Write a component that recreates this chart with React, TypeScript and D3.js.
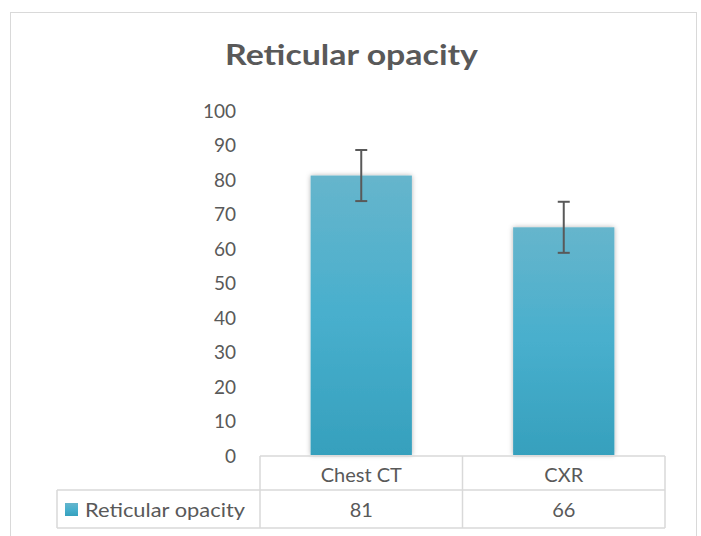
import React from "react";
import * as d3 from "d3";

const categories = ["Chest CT", "CXR"];
const values = [81, 66];
const errors = [7.4, 7.4];
const seriesName = "Reticular opacity";
const yTicks = [0, 10, 20, 30, 40, 50, 60, 70, 80, 90, 100];

const W = 701;
const H = 536;
const FONT = "Lato, 'Open Sans', sans-serif";
const TXT = "#595959";
const GRID = "#d9d9d9";

const App = () => {
  const plotLeft = 260;
  const plotRight = 665;
  const y = d3.scaleLinear().domain([0, 100]).range([455, 110]);
  const x = d3.scaleBand<string>().domain(categories).range([plotLeft, plotRight]).padding(0);
  const barW = x.bandwidth() * 0.5;
  const row1 = [456, 490];
  const row2 = [490, 528];
  const legendLeft = 57;

  return (
    <svg width={W} height={H} style={{ position: "absolute", left: 0, top: 0 }}>
      <defs>
        <linearGradient id="barGrad" x1="0" y1="0" x2="0" y2="1">
          <stop offset="0%" stopColor="#66b5cc" />
          <stop offset="50%" stopColor="#48afcd" />
          <stop offset="100%" stopColor="#36a0bd" />
        </linearGradient>
        <filter id="shadow" x="-20%" y="-10%" width="140%" height="120%">
          <feDropShadow dx="0" dy="0" stdDeviation="2.5" floodColor="#000" floodOpacity="0.3" />
        </filter>
      </defs>
      <rect x={0} y={0} width={W} height={H} fill="#fff" />
      <rect x={10.5} y={12.5} width={686} height={540} fill="#fff" stroke={GRID} strokeWidth={1} />

      <text x={351.5} y={65} textAnchor="middle" fontFamily={FONT} fontWeight="bold" fontSize={29} fill={TXT}
        textLength={253} lengthAdjust="spacingAndGlyphs">
        Reticular opacity
      </text>

      {yTicks.map((t) => (
        <text key={t} x={236} y={y(t)} textAnchor="end" dominantBaseline="central" fontFamily={FONT} fontSize={19} fill={TXT}>
          {t}
        </text>
      ))}

      {categories.map((c, i) => {
        const cx = (x(c) as number) + x.bandwidth() / 2;
        return (
          <g key={c}>
            <rect x={cx - barW / 2} y={y(values[i])} width={barW} height={y(0) - y(values[i])} fill="url(#barGrad)" filter="url(#shadow)" />
            <line x1={cx} x2={cx} y1={y(values[i] + errors[i])} y2={y(values[i] - errors[i])} stroke={TXT} strokeWidth={2} />
            <line x1={cx - 6} x2={cx + 6} y1={y(values[i] + errors[i])} y2={y(values[i] + errors[i])} stroke={TXT} strokeWidth={2} />
            <line x1={cx - 6} x2={cx + 6} y1={y(values[i] - errors[i])} y2={y(values[i] - errors[i])} stroke={TXT} strokeWidth={2} />
          </g>
        );
      })}

      {/* data table */}
      <g stroke={GRID} strokeWidth={1.5} fill="none">
        <line x1={plotLeft} x2={plotRight} y1={row1[0]} y2={row1[0]} />
        <line x1={legendLeft} x2={plotRight} y1={row2[0]} y2={row2[0]} />
        <line x1={legendLeft} x2={plotRight} y1={row2[1]} y2={row2[1]} />
        <line x1={legendLeft} x2={legendLeft} y1={row2[0]} y2={row2[1]} />
        {[plotLeft, ...categories.map((c) => (x(c) as number) + x.bandwidth())].map((px, i) => (
          <line key={i} x1={px} x2={px} y1={row1[0]} y2={row2[1]} />
        ))}
      </g>
      {categories.map((c, i) => {
        const cx = (x(c) as number) + x.bandwidth() / 2;
        return (
          <g key={c} fontFamily={FONT} fontSize={20} fill={TXT} textAnchor="middle">
            <text x={cx} y={(row1[0] + row1[1]) / 2 + 1} dominantBaseline="central">{c}</text>
            <text x={cx} y={(row2[0] + row2[1]) / 2} dominantBaseline="central">{values[i]}</text>
          </g>
        );
      })}
      <rect x={65} y={503} width={13} height={13} fill="url(#barGrad)" />
      <text x={85} y={(row2[0] + row2[1]) / 2} dominantBaseline="central" fontFamily={FONT} fontSize={20} fill={TXT}
        textLength={160} lengthAdjust="spacingAndGlyphs">
        {seriesName}
      </text>
    </svg>
  );
};

export default App;
